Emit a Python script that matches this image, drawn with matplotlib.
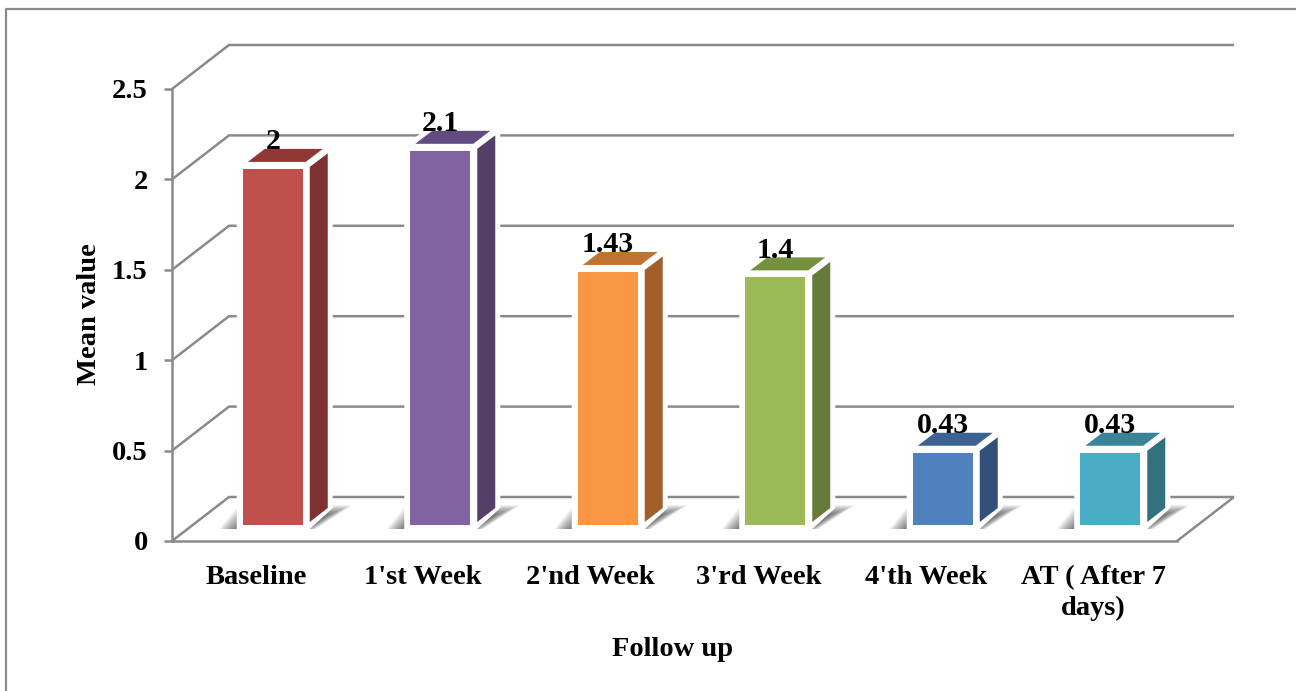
import matplotlib
matplotlib.use("Agg")
import matplotlib.pyplot as plt
from matplotlib.lines import Line2D
from matplotlib.patches import Polygon

plt.rcParams['font.family'] = ['Liberation Serif', 'DejaVu Serif']
plt.rcParams['font.weight'] = 'bold'

categories = ['Baseline', "1'st Week", "2'nd Week", "3'rd Week", "4'th Week", 'AT ( After 7\ndays)']
means = [2, 2.1, 1.43, 1.4, 0.43, 0.43]
mean_labels = ['2', '2.1', '1.43', '1.4', '0.43', '0.43']
y_ticks = [0, 0.5, 1, 1.5, 2, 2.5]
y_tick_labels = ['0', '0.5', '1', '1.5', '2', '2.5']

front_colors = ['#C0504D', '#8064A2', '#FA9644', '#9BBB59', '#4F81BD', '#4BACC6']
side_colors = ['#7D3130', '#533F68', '#A1602B', '#667A3A', '#325078', '#30707F']
top_colors = ['#8E3735', '#624B7F', '#C07330', '#75903F', '#3C6292', '#3A8499']

W, H = 1296, 691
LEFT, RIGHT, BOTTOM, TOP = 172, 1177, 541, 89
GREY = '#8A8A8A'
DEPTH_X, DEPTH_Y = 57, 44

fig = plt.figure(figsize=(W / 100, H / 100), dpi=100)
ax = fig.add_axes([LEFT / W, 1 - BOTTOM / H, (RIGHT - LEFT) / W, (BOTTOM - TOP) / H])
ax.set_xlim(0, len(categories))
ax.set_ylim(0, 2.5)
ax.patch.set_alpha(0)

px_x = (RIGHT - LEFT) / len(categories)
px_y = (BOTTOM - TOP) / 2.5


def shift(x, y, dx, dy):
    # dx, dy are pixels right of and above a data point
    return (x + dx / px_x, y + dy / px_y)


# outer frame runs off the right and bottom edges
fig.add_artist(Line2D([6 / W, 6 / W, 1], [0, 1 - 9 / H, 1 - 9 / H], color=GREY, lw=1.6))

# back wall grid lines with their diagonal returns
n = len(categories)
for v in y_ticks:
    p = shift(0, v, DEPTH_X, DEPTH_Y)
    q = shift(n, v, DEPTH_X, DEPTH_Y)
    ax.plot([0, p[0], q[0]], [v, p[1], q[1]], color=GREY, lw=1.8, clip_on=False, zorder=1,
            solid_joinstyle='miter', solid_capstyle='butt')
p = shift(n, 0, DEPTH_X, DEPTH_Y)
ax.plot([n, p[0]], [0, p[1]], color=GREY, lw=1.8, clip_on=False, zorder=1, solid_capstyle='butt')

for i, v in enumerate(means):
    cx = i + 0.5

    # soft floor shadow, built from stacked translucent shapes
    for g in range(26):
        shadow = [shift(cx, 0, -19 - 0.7 * g, 12),
                  shift(cx, 0, 50 + 0.4 * g, 12),
                  shift(cx, 0, 72 + 1.0 * g, 26 + 0.4 * g),
                  shift(cx, 0, 0 - 0.7 * g, 26 + 0.4 * g)]
        ax.add_patch(Polygon(shadow, closed=True, fc='#303030', ec='none', alpha=0.035,
                             zorder=2, clip_on=False))

    # white bevel around the box
    white = [shift(cx, 0, -19, 12), shift(cx, 0, 54, 12), shift(cx, 0, 77, 33),
             shift(cx, v, 77, 34), shift(cx, v, 6, 34), shift(cx, v, -19, 16)]
    ax.add_patch(Polygon(white, closed=True, fc='white', ec='none', zorder=3, clip_on=False))

    # front, side and top faces of the box
    front = [shift(cx, 0, -13, 16), shift(cx, 0, 47, 16), shift(cx, v, 47, 10.5), shift(cx, v, -13, 10.5)]
    side = [shift(cx, 0, 54, 19), shift(cx, 0, 72, 33), shift(cx, v, 72, 26), shift(cx, v, 54, 12.5)]
    top = [shift(cx, v, -8, 17.5), shift(cx, v, 50, 17.5), shift(cx, v, 67, 30.5), shift(cx, v, 9, 30.5)]
    ax.add_patch(Polygon(front, closed=True, fc=front_colors[i], ec='none', zorder=4, clip_on=False))
    ax.add_patch(Polygon(side, closed=True, fc=side_colors[i], ec='none', zorder=4, clip_on=False))
    ax.add_patch(Polygon(top, closed=True, fc=top_colors[i], ec='none', zorder=4, clip_on=False))

    lx, ly = shift(cx, v, 17, 37.5)
    ax.text(lx, ly, mean_labels[i], ha='center', va='center', fontsize=21.5, zorder=6, color='black')

for s in ['top', 'right']:
    ax.spines[s].set_visible(False)
for s in ['left', 'bottom']:
    ax.spines[s].set_color(GREY)
    ax.spines[s].set_linewidth(1.8)
    ax.spines[s].set_zorder(5)

ax.set_yticks(y_ticks)
ax.set_yticklabels(y_tick_labels, fontsize=20.5)
ax.set_xticks([i + 0.5 for i in range(n)])
ax.set_xticklabels(categories, fontsize=20.5, linespacing=1.33, va='top')
ax.tick_params(axis='y', length=5.5, width=1.8, color=GREY, pad=12)
ax.tick_params(axis='x', length=0, pad=17)

fig.text(90 / W, 1 - 314 / H, 'Mean value', rotation=90, ha='center', va='center', fontsize=20.5)
fig.text(673 / W, 1 - 649 / H, 'Follow up', ha='center', va='center', fontsize=20.5)

fig.savefig('out.png', dpi=100)
